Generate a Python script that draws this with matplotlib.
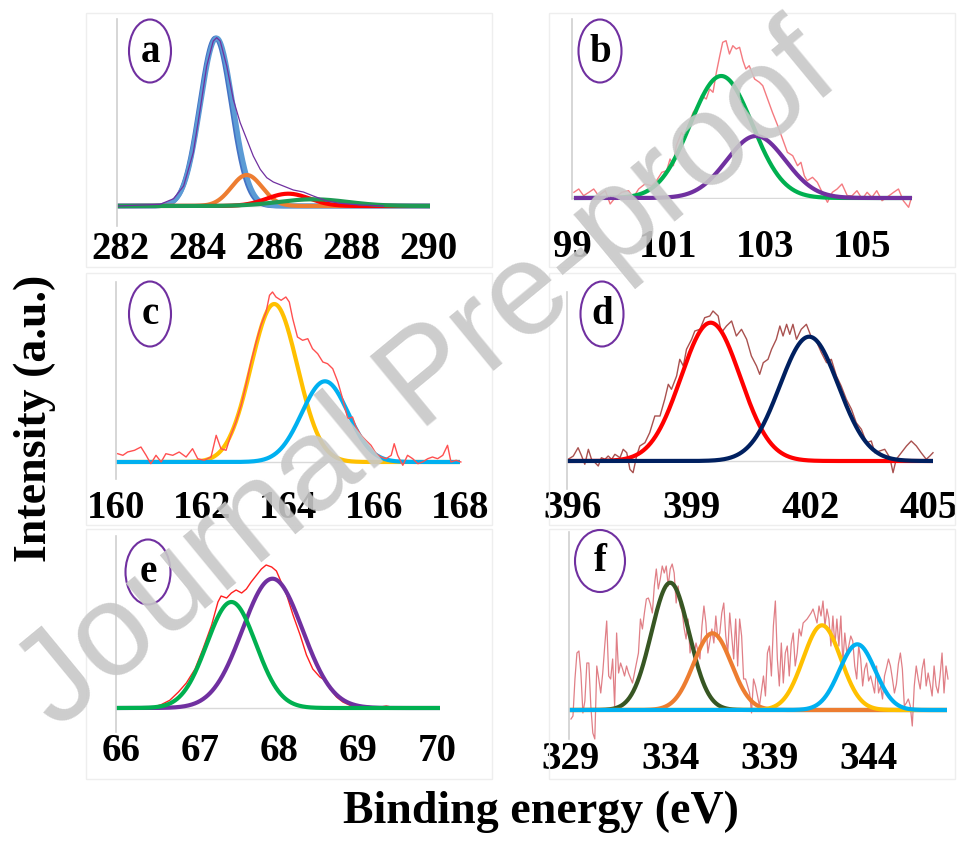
import numpy as np
import matplotlib
matplotlib.use('Agg')
import matplotlib.pyplot as plt
from matplotlib.patches import Ellipse, Rectangle

plt.rcParams['font.family'] = ['Liberation Serif', 'DejaVu Serif']

W, H = 963, 845

# ---------------- data (intensities in a.u.) ----------------
# (a) C 1s : fitted components (centre eV, height, sigma)
a_centers = [284.48, 284.51, 285.29, 286.37, 287.02]
a_heights = [168, 168, 31, 12.3, 6.7]
a_sigmas = [0.41, 0.42, 0.40, 0.55, 0.90]
a_colors = ['#4472C4', '#5B9BD5', '#ED7D31', '#FF0000', '#1E9A55']
a_env_x = [281.95, 283.04, 283.39, 283.65, 283.90, 284.08, 284.25, 284.42, 284.51, 284.60,
           284.77, 284.94, 285.12, 285.29, 285.46, 285.64, 285.81, 285.98, 286.24, 286.50,
           286.76, 287.02, 287.37, 287.71, 288.23, 288.84]
a_env_y = [0, 1.7, 7.3, 20, 53.3, 96.7, 140, 165, 168.3, 165,
           140, 106.7, 83.3, 66.7, 50, 36.7, 28.3, 24, 20, 16,
           14, 10, 5, 2.7, 1, 0]

# (b) Si 2p
b_x = [99.04, 99.14, 99.24, 99.35, 99.45, 99.55, 99.69, 99.79, 99.90, 100.03,
       100.17, 100.27, 100.38, 100.51, 100.65, 100.75, 100.86, 100.96, 101.03, 101.10,
       101.16, 101.27, 101.34, 101.40, 101.51, 101.61, 101.68, 101.78, 101.85, 101.92,
       101.99, 102.06, 102.12, 102.19, 102.26, 102.33, 102.40, 102.47, 102.54, 102.60,
       102.67, 102.78, 102.88, 102.95, 103.05, 103.15, 103.26, 103.36, 103.46, 103.57,
       103.67, 103.74, 103.81, 103.87, 103.98, 104.08, 104.18, 104.29, 104.39, 104.49,
       104.59, 104.70, 104.80, 104.90, 105.01, 105.11, 105.21, 105.31, 105.42, 105.52,
       105.66, 105.76, 105.86, 105.97, 106.03]
b_y = [5.7, 9, 2.3, 5.7, 9, 2.3, 7.3, -6, 0.7, 5.7,
       7.3, 0.7, 9, 14, 12.3, 17.3, 25.7, 27.3, 39, 32.3,
       52.3, 65.7, 59, 72.3, 85.7, 92.3, 102.3, 99, 109, 105.7,
       125.7, 142.3, 155.7, 157.3, 144, 152.3, 149, 150.7, 137.3, 129,
       132.3, 119, 115.7, 112.3, 99, 85.7, 72.3, 59, 45.7, 42.3,
       32.3, 35.7, 22.3, 17.3, 20.7, 15.7, 5.7, -4.3, 5.7, 9,
       14, 2.3, 2.3, 7.3, -1, 5.7, 0.7, 7.3, -2.7, 0.7,
       5.7, 9, -2.7, -9.3, 0.7]
b_centers = [102.09, 102.81]
b_heights = [122, 62]
b_sigmas = [0.64, 0.61]
b_colors = ['#00B050', '#7030A0']

# (c) S 2p
c_x = [160.04, 160.16, 160.27, 160.43, 160.58, 160.70, 160.81, 160.93, 161.05, 161.16,
       161.32, 161.47, 161.63, 161.78, 161.90, 162.05, 162.21, 162.33, 162.44, 162.56,
       162.67, 162.79, 162.91, 163.02, 163.14, 163.26, 163.37, 163.49, 163.57, 163.64,
       163.72, 163.84, 163.95, 164.03, 164.11, 164.22, 164.34, 164.46, 164.57, 164.69,
       164.81, 164.92, 165.04, 165.16, 165.27, 165.39, 165.50, 165.58, 165.70, 165.81,
       165.93, 166.05, 166.16, 166.28, 166.40, 166.47, 166.55, 166.67, 166.78, 166.90,
       167.02, 167.13, 167.25, 167.36, 167.48, 167.60, 167.71, 167.79, 167.91, 168.02]
c_y = [8.3, 6.7, 10, 11.7, 15, 6.7, -1.7, 6.7, 0, 8.3,
       6.7, 10, 5, 13.3, 3.3, 1.7, 5, 26.7, 13.3, 11.7,
       26.7, 40, 56.7, 76.7, 100, 120, 136.7, 150, 166.7, 170,
       165, 161.7, 165, 160, 143.3, 125, 121.7, 123.3, 113.3, 108.3,
       100, 98.3, 93.3, 80, 63.3, 43.3, 45, 35, 26.7, 21.7,
       16.7, 8.3, 5, 3.3, 6.7, 18.3, 6.7, -3.3, 6.7, 3.3,
       -1.7, 0, 3.3, 5, 3.3, 6.7, 16.7, 0, 1.7, 0]
c_centers = [163.68, 164.86]
c_heights = [158, 80.7]
c_sigmas = [0.54, 0.54]
c_colors = ['#FFC000', '#00B0F0']

# (d) N 1s
d_x = [395.88, 396.01, 396.13, 396.22, 396.30, 396.39, 396.47, 396.56, 396.64, 396.72,
       396.81, 396.89, 396.98, 397.06, 397.19, 397.27, 397.36, 397.44, 397.52, 397.61,
       397.69, 397.82, 397.94, 398.07, 398.20, 398.32, 398.41, 398.49, 398.62, 398.70,
       398.79, 398.87, 399.00, 399.08, 399.21, 399.33, 399.46, 399.54, 399.67, 399.75,
       399.88, 400.01, 400.13, 400.26, 400.39, 400.51, 400.64, 400.72, 400.81, 400.93,
       401.02, 401.14, 401.23, 401.31, 401.40, 401.48, 401.56, 401.65, 401.77, 401.90,
       402.03, 402.15, 402.28, 402.41, 402.53, 402.66, 402.78, 402.91, 403.04, 403.16,
       403.29, 403.42, 403.54, 403.63, 403.75, 403.88, 404.01, 404.09, 404.17, 404.30,
       404.43, 404.55, 404.68, 404.80, 404.93, 405.02, 405.10]
d_y = [1.7, 5, 13.3, 5, -3.3, 11.7, 1.7, -1.7, -5, 3.3,
       1.7, 5, 1.7, 6.7, 3.3, 11.7, 8.3, -8.3, -11.7, 5,
       15, 18.3, 28.3, 45, 45, 61.7, 76.7, 71.7, 85, 101.7,
       95, 111.7, 121.7, 130, 131.7, 143.3, 145, 150, 145, 128.3,
       135, 140, 125, 131.7, 121.7, 105, 95, 86.7, 98.3, 101.7,
       111.7, 121.7, 135, 125, 136.7, 126.7, 136.7, 121.7, 131.7, 136.7,
       123.3, 120, 108.3, 98.3, 101.7, 85, 75, 61.7, 51.7, 38.3,
       31.7, 18.3, 20, 8.3, 10, 11.7, 3.3, -11.7, 1.7, 8.3,
       15, 20, 15, 8.3, 1.7, 5, 8.3]
d_centers = [399.48, 401.97]
d_heights = [138.3, 124.3]
d_sigmas = [0.75, 0.74]
d_colors = ['#FF0000', '#002060']

# (e) 3d region
e_x = [66.41, 66.51, 66.62, 66.73, 66.83, 66.94, 67.04, 67.15, 67.23, 67.27,
       67.34, 67.40, 67.46, 67.53, 67.59, 67.65, 67.72, 67.78, 67.84, 67.91,
       67.97, 68.03, 68.10, 68.18, 68.27, 68.35, 68.43, 68.52, 68.58, 68.65,
       68.73, 68.81, 68.90, 68.98, 69.11, 69.24, 69.36, 69.49]
e_y = [1, 3.3, 7.7, 16, 25, 39, 59, 83, 106, 112,
       110, 115, 118, 115, 119, 126, 133, 139, 143, 141,
       137, 126, 113, 93, 73, 53, 39, 31, 28, 19,
       11, 6, 2.7, 1, 2, 0.3, 2, 0]
e_centers = [67.92, 67.40]
e_heights = [129.3, 106]
e_sigmas = [0.38, 0.31]
e_colors = ['#7030A0', '#00B050']

# (f) Cd 3d, 0.1 eV steps from 329.0 eV
f_start, f_step = 329.0, 0.1
f_y = [-9, -6, 31, 57, 59, 37, -3, 9, 47, 47,
       4, -23, -29, 44, 31, 17, 37, 64, 89, 34,
       31, 51, 4, 77, 37, 47, 41, 34, 44, 37,
       32, 27, 37, 47, 57, 91, 81, 97, 111, 112,
       106, 97, 124, 141, 121, 131, 144, 137, 144, 124,
       141, 146, 137, 107, 124, 104, 99, 82, 71, 91,
       57, 69, 54, 67, 59, 51, 84, 104, 87, 57,
       69, 81, 67, 94, 71, 77, 97, 107, 74, 57,
       97, 74, 51, 91, 44, 91, 74, 31, 31, 24,
       17, -3, 31, 24, 14, 4, 19, 34, 14, 57,
       64, 34, 84, 109, 51, 24, 67, 27, 57, 64,
       34, 66, 77, 44, 57, 81, 74, 87, 89, 91,
       94, 97, 101, 94, 87, 104, 94, 109, 84, 101,
       91, 64, 94, 64, 91, 64, 94, 47, 77, 57,
       64, 74, 69, 44, 31, 64, 51, 24, 41, 47,
       29, 34, 26, 17, 44, 17, 24, 11, 34, 42,
       51, 44, 31, 17, 26, 46, 57, 41, 4, 7,
       11, 4, -16, 24, 44, 31, 21, 41, 51, 24,
       37, 26, 14, 44, 24, 17, 34, 57, 17, 44,
       31]
f_x = f_start + f_step * np.arange(len(f_y))
f_centers = [334.0, 336.13, 341.65, 343.43]
f_heights = [127.3, 76.7, 84.7, 65.7]
f_sigmas = [0.95, 0.95, 0.95, 0.90]
f_colors = ['#375623', '#ED7D31', '#FFC000', '#00B0F0']

tick_a = [282, 284, 286, 288, 290]
tick_b = [99, 101, 103, 105]
tick_c = [160, 162, 164, 166, 168]
tick_d = [396, 399, 402, 405]
tick_e = [66, 67, 68, 69, 70]
tick_f = [329, 334, 339, 344]


def gauss(x, c, h, s):
    return h * np.exp(-(x - c) ** 2 / (2 * s * s))


def make_axes(fig, left, right, top, bottom, xlim, ylim, ticks, pad_px):
    ax = fig.add_axes([left / W, 1 - bottom / H, (right - left) / W, (bottom - top) / H])
    ax.set_xlim(*xlim)
    ax.set_ylim(*ylim)
    for s in ['top', 'right', 'bottom']:
        ax.spines[s].set_visible(False)
    ax.spines['left'].set_color('#d0d0d0')
    ax.spines['left'].set_linewidth(1.2)
    ax.set_yticks([])
    ax.set_xticks(ticks)
    ax.set_xticklabels([str(t) for t in ticks], fontsize=28, fontweight='bold')
    ax.tick_params(axis='x', length=0, pad=pad_px * 0.72)
    ax.axhline(0, color='#d9d9d9', lw=1, zorder=0)
    ax.patch.set_alpha(0)
    return ax


def components(ax, xs, centers, heights, sigmas, colors, lw=3.0):
    for c, h, s, col in zip(centers, heights, sigmas, colors):
        ax.plot(xs, gauss(xs, c, h, s), color=col, lw=lw, solid_capstyle='butt', clip_on=False)


def panel_label(fig, cx, cy, w, h, letter):
    fig.patches.append(Ellipse((cx / W, 1 - cy / H), w / W, h / H, transform=fig.transFigure,
                               fill=False, edgecolor='#7030A0', lw=1.5))
    fig.text(cx / W, 1 - cy / H, letter, ha='center', va='center', fontsize=28,
             fontweight='bold')


def panel_box(fig, x0, y0, x1, y1):
    fig.patches.append(Rectangle((x0 / W, 1 - y1 / H), (x1 - x0) / W, (y1 - y0) / H,
                                 transform=fig.transFigure, fill=False,
                                 edgecolor='#eeeeee', lw=1, zorder=0))


fig = plt.figure(figsize=(W / 100, H / 100), dpi=100)

for x0, x1 in [(86, 492), (549, 955)]:
    for y0, y1 in [(14, 268), (274, 526), (530, 780)]:
        panel_box(fig, x0, y0, x1, y1)

# (a)
ax = make_axes(fig, 117, 430, 20, 227, (281.92, 290.05), (-20, 187), tick_a, 4)
xs = np.linspace(281.92, 290.05, 600)
components(ax, xs, a_centers[:2], a_heights[:2], a_sigmas[:2], a_colors[:2], lw=3.5)
components(ax, xs, a_centers[2:], a_heights[2:], a_sigmas[2:], a_colors[2:])
ax.plot(a_env_x, a_env_y, color='#7030A0', lw=0.9)

# (b)
ax = make_axes(fig, 572, 912, 20, 200, (99.04, 106.04), (-1, 179), tick_b, 29)
xs = np.linspace(99.04, 106.04, 600)
ax.plot(b_x, b_y, color='#F47A80', lw=1.0, clip_on=False)
components(ax, xs, b_centers, b_heights, b_sigmas, b_colors)

# (c)
ax = make_axes(fig, 116, 460, 283, 480, (160.0, 168.0), (-17, 180), tick_c, 10)
xs = np.linspace(160.0, 168.0, 600)
components(ax, xs, c_centers, c_heights, c_sigmas, c_colors)
ax.plot(c_x, c_y, color='#FF5050', lw=1.0, clip_on=False)

# (d)
ax = make_axes(fig, 567, 933, 293, 490, (395.85, 405.1), (-28, 169), tick_d, 0)
xs = np.linspace(395.85, 405.1, 600)
ax.plot(d_x, d_y, color='#A9514F', lw=1.0, clip_on=False)
components(ax, xs, d_centers, d_heights, d_sigmas, d_colors)

# (e)
ax = make_axes(fig, 116, 440, 537, 733, (65.94, 70.04), (-24, 172), tick_e, 0)
xs = np.linspace(65.94, 70.04, 600)
ax.plot(e_x, e_y, color='#FF2020', lw=1.0)
components(ax, xs, e_centers, e_heights, e_sigmas, e_colors)

# (f)
ax = make_axes(fig, 569, 947, 533, 740, (328.9, 347.95), (-29, 178), tick_f, 1)
xs = np.linspace(328.9, 347.95, 800)
ax.plot(f_x, f_y, color='#E07F86', lw=0.9, clip_on=False)
components(ax, xs, f_centers, f_heights, f_sigmas, f_colors)

# panel labels
panel_label(fig, 150, 52, 42, 63, 'a')
panel_label(fig, 600, 52, 43, 63, 'b')
panel_label(fig, 150, 315, 42, 65, 'c')
panel_label(fig, 602, 315, 43, 65, 'd')
panel_label(fig, 148, 573, 45, 65, 'e')
panel_label(fig, 600, 562, 50, 62, 'f')

fig.text(35 / W, 1 - 418 / H, 'Intensity (a.u.)', rotation=90, ha='center', va='center',
         fontsize=33, fontweight='bold')
fig.text(541 / W, 1 - 812 / H, 'Binding energy (eV)', ha='center', va='center',
         fontsize=33, fontweight='bold')

# watermark
fig.text(428 / W, 1 - 380 / H, 'Journal Pre-proof', rotation=39.5, ha='center', va='center',
         fontsize=95, color='#c8c8c8', family='Liberation Sans', zorder=10, alpha=0.9)

fig.savefig('out.png', dpi=100)
